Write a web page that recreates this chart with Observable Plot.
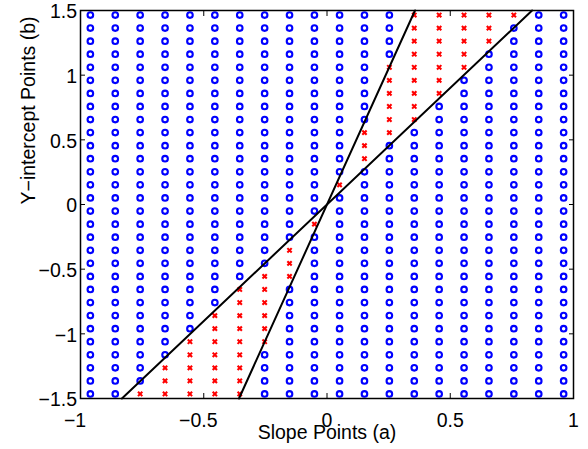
<!DOCTYPE html>
<html><head><meta charset="utf-8">
<script src="https://cdn.jsdelivr.net/npm/d3@7"></script>
<script src="https://cdn.jsdelivr.net/npm/@observablehq/plot@0.6"></script>
<style>html,body{margin:0;padding:0;background:#fff;} #chart svg{display:block;}</style>
</head><body><div id="chart"></div>
<script>
// Grid of candidate (a, b) points
const slopePoints = [-0.96, -0.859, -0.758, -0.657, -0.556, -0.455, -0.354, -0.253, -0.152, -0.051,
                      0.051, 0.152, 0.253, 0.354, 0.455, 0.556, 0.657, 0.758, 0.859, 0.96];
const interceptPoints = [-1.465, -1.364, -1.263, -1.162, -1.061, -0.960, -0.859, -0.758, -0.657, -0.556,
                         -0.455, -0.354, -0.253, -0.152, -0.051, 0.051, 0.152, 0.253, 0.354, 0.455,
                          0.556, 0.657, 0.758, 0.859, 0.960, 1.061, 1.162, 1.263, 1.364, 1.465];
// red "x" points: per slope column, [first, last] index into interceptPoints (null = none)
const redRanges = [null, null, [0,0], [0,2], [0,4], [0,6], [0,8], [4,9], [9,11], [13,13],
                   [16,16], [18,20], [20,25], [21,29], [23,29], [25,29], [27,29], [29,29], null, null];
// the two lines
const steepLineA = [-0.357, 0.357];
const steepLineB = [-1.5, 1.5];
const shallowLineA = [-0.832, 0.832];
const shallowLineB = [-1.5, 1.5];
// ticks
const xTicks = [-1, -0.5, 0, 0.5, 1];
const xTickLabels = ["−1", "−0.5", "0", "0.5", "1"];
const yTicks = [-1.5, -1, -0.5, 0, 0.5, 1, 1.5];
const yTickLabels = ["−1.5", "−1", "−0.5", "0", "0.5", "1", "1.5"];
const xLabel = "Slope Points (a)";
const yLabel = "Y−intercept Points (b)";

const grid = [];
slopePoints.forEach((a, i) => interceptPoints.forEach((b, k) => {
  const r = redRanges[i];
  grid.push({a, b, red: r != null && k >= r[0] && k <= r[1]});
}));
const steep = steepLineA.map((a, i) => ({a, b: steepLineB[i]}));
const shallow = shallowLineA.map((a, i) => ({a, b: shallowLineB[i]}));

const font = "'Liberation Sans', Arial, Helvetica, sans-serif";
const fs = 19.5;
const fmtX = d => xTickLabels[xTicks.indexOf(d)];
const fmtY = d => yTickLabels[yTicks.indexOf(d)];
const none = () => "";

const chart = Plot.plot({
  width: 588, height: 449,
  marginLeft: 80, marginRight: 15, marginTop: 10, marginBottom: 51,
  style: {fontFamily: font, fontSize: fs + "px", color: "black", background: "white", overflow: "visible"},
  x: {domain: [-1, 1]},
  y: {domain: [-1.5, 1.5]},
  marks: [
    Plot.dot(grid.filter(d => !d.red), {x: "a", y: "b", r: 2.8, stroke: "#0000ff", strokeWidth: 2.1, fill: "none"}),
    Plot.dot(grid.filter(d => d.red), {x: "a", y: "b", r: 2.1, symbol: "times", stroke: "#ff0000", strokeWidth: 2.1}),
    Plot.line(steep, {x: "a", y: "b", stroke: "black", strokeWidth: 2}),
    Plot.line(shallow, {x: "a", y: "b", stroke: "black", strokeWidth: 2}),
    Plot.frame({stroke: "black", strokeWidth: 1.5}),
    // inward ticks on all four sides
    Plot.axisX(xTicks, {anchor: "bottom", tickSize: -5, tickFormat: none, label: null}),
    Plot.axisX(xTicks, {anchor: "top", tickSize: -5, tickFormat: none, label: null}),
    Plot.axisY(yTicks, {anchor: "left", tickSize: -5, tickFormat: none, label: null}),
    Plot.axisY(yTicks, {anchor: "right", tickSize: -5, tickFormat: none, label: null}),
    // tick labels
    Plot.axisX(xTicks.filter(d => d < 0), {anchor: "bottom", tickSize: 0, tickPadding: 11, dx: -5.5, dy: 3.5, tickFormat: fmtX, label: null, fontSize: fs}),
    Plot.axisX(xTicks.filter(d => d >= 0), {anchor: "bottom", tickSize: 0, tickPadding: 11, dy: 3.5, tickFormat: fmtX, label: null, fontSize: fs}),
    Plot.axisY(yTicks, {anchor: "left", tickSize: 0, tickPadding: 3.5, dy: 1.5, tickFormat: fmtY, label: null, fontSize: fs}),
    // axis titles
    Plot.text([xLabel], {text: d => d, frameAnchor: "bottom", dy: 40, fontSize: fs}),
    Plot.text([yLabel], {text: d => d, frameAnchor: "left", rotate: -90, dx: -52, fontSize: fs})
  ]
});
document.getElementById("chart").appendChild(chart);
</script>
</body></html>
